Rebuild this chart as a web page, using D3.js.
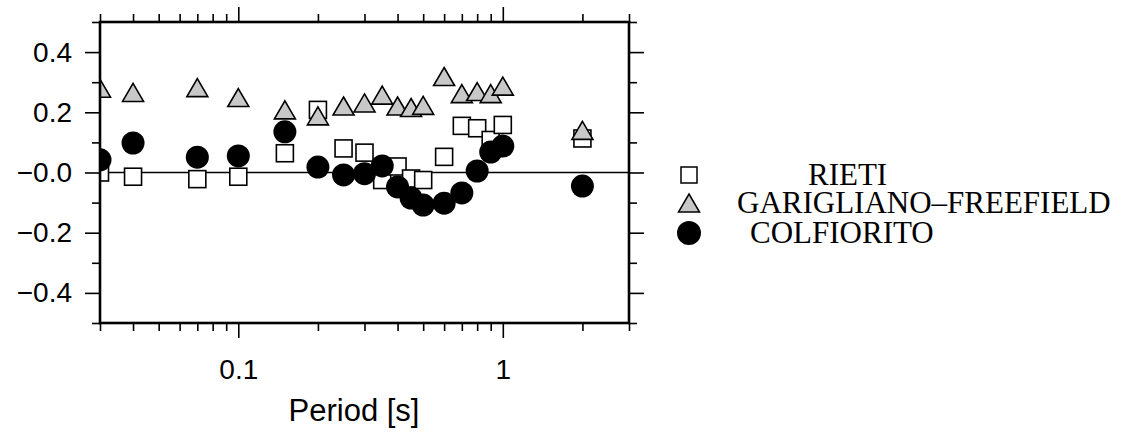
<!DOCTYPE html>
<html>
<head>
<meta charset="utf-8">
<script src="https://cdn.jsdelivr.net/npm/d3@7"></script>
<style>
  body { margin: 0; background: #fff; }
  svg { display: block; }
  .tick text { font-family: "Liberation Sans", Arial, sans-serif; }
</style>
</head>
<body>
<svg id="chart" width="1124" height="437"></svg>
<script>
// periods in seconds, shared by all stations
let periods = [0.03, 0.04, 0.07, 0.1, 0.15, 0.2, 0.25, 0.3, 0.35, 0.4, 0.45, 0.5, 0.6, 0.7, 0.8, 0.9, 1.0, 2.0];

let rieti = [0.0, -0.014, -0.022, -0.014, 0.064, 0.208, 0.080, 0.066, -0.025, 0.020, -0.020, -0.025, 0.052, 0.155, 0.147, 0.108, 0.158, 0.113];
let garigliano = [0.28, 0.266, 0.282, 0.249, 0.208, 0.188, 0.221, 0.231, 0.257, 0.221, 0.216, 0.223, 0.319, 0.262, 0.269, 0.262, 0.287, 0.14];
let colfiorito = [0.042, 0.098, 0.051, 0.055, 0.135, 0.018, -0.008, -0.004, 0.022, -0.048, -0.085, -0.108, -0.102, -0.068, 0.005, 0.068, 0.088, -0.045];

let seriesNames = ["RIETI", "GARIGLIANO\u2013FREEFIELD", "COLFIORITO"];

let yTickValues = [0.4, 0.2, 0, -0.2, -0.4];
let yTickLabels = ["0.4", "0.2", "\u22120.0", "\u22120.2", "\u22120.4"];
let xTickValues = [0.1, 1];
let xTickLabels = ["0.1", "1"];

let plot = { left: 100, right: 629, top: 22, bottom: 323 };

let svg = d3.select("#chart");

let x = d3.scaleLog().domain([0.03, 3]).range([plot.left, plot.right]);
let y = d3.scaleLinear().domain([-0.5, 0.5]).range([plot.bottom, plot.top]);

let minorX = x.ticks().filter(d => xTickValues.indexOf(d) < 0);
let minorY = d3.range(-5, 6).map(d => d / 10).filter(d => Math.abs(Math.round(d * 10)) % 2 === 1);

/**
 * Draws one axis twice: short minor ticks, then long labelled major ticks
 */
function drawAxis(maker, scale, transform, minor, major, labels, padding) {
    svg.append("g")
        .attr("transform", transform)
        .call(maker(scale).tickValues(minor).tickSize(8).tickFormat(""));
    let g = svg.append("g")
        .attr("transform", transform)
        .call(maker(scale).tickValues(major).tickSize(15).tickPadding(padding)
            .tickFormat((d, i) => labels ? labels[i] : ""));
    return g;
}

drawAxis(d3.axisBottom, x, `translate(0,${plot.bottom})`, minorX, xTickValues, xTickLabels, 21);
drawAxis(d3.axisTop, x, `translate(0,${plot.top})`, minorX, xTickValues, null, 0);
drawAxis(d3.axisLeft, y, `translate(${plot.left},0)`, minorY, yTickValues, yTickLabels, 13);
drawAxis(d3.axisRight, y, `translate(${plot.right},0)`, minorY, yTickValues, null, 0);

svg.selectAll(".domain").remove();
svg.selectAll(".tick line").attr("stroke", "#000").attr("stroke-width", 1.6);
svg.selectAll(".tick text").attr("font-size", 28).attr("fill", "#000");

// clip markers to the frame
svg.append("clipPath").attr("id", "clip")
    .append("rect")
    .attr("x", plot.left).attr("y", plot.top)
    .attr("width", plot.right - plot.left).attr("height", plot.bottom - plot.top);

let body = svg.append("g").attr("clip-path", "url(#clip)");

body.append("line")
    .attr("x1", plot.left).attr("x2", plot.right)
    .attr("y1", y(0)).attr("y2", y(0))
    .attr("stroke", "#000").attr("stroke-width", 1.4);

let sq = 17, triW = 21, triH = 18, rad = 11.5;
let triPath = `M0,${-triH / 2}L${triW / 2},${triH / 2}L${-triW / 2},${triH / 2}Z`;

body.selectAll("rect.rieti")
    .data(rieti)
    .enter()
    .append("rect")
    .attr("class", "rieti")
    .attr("x", (d, i) => x(periods[i]) - sq / 2)
    .attr("y", d => y(d) - sq / 2)
    .attr("width", sq).attr("height", sq)
    .attr("fill", "#fff").attr("stroke", "#000").attr("stroke-width", 1.6);

body.selectAll("path.gar")
    .data(garigliano)
    .enter()
    .append("path")
    .attr("class", "gar")
    .attr("d", triPath)
    .attr("transform", (d, i) => `translate(${x(periods[i])},${y(d)})`)
    .attr("fill", "#c8c8c8").attr("stroke", "#000").attr("stroke-width", 1.6);

body.selectAll("circle.colf")
    .data(colfiorito)
    .enter()
    .append("circle")
    .attr("class", "colf")
    .attr("cx", (d, i) => x(periods[i]))
    .attr("cy", d => y(d))
    .attr("r", rad)
    .attr("fill", "#000");

// frame
svg.append("rect")
    .attr("x", plot.left).attr("y", plot.top)
    .attr("width", plot.right - plot.left).attr("height", plot.bottom - plot.top)
    .attr("fill", "none").attr("stroke", "#000").attr("stroke-width", 2.6);

svg.append("text")
    .attr("x", 354).attr("y", 421)
    .attr("text-anchor", "middle")
    .attr("font-family", "Liberation Sans, Arial, sans-serif")
    .attr("font-size", 31)
    .text("Period [s]");

// legend
let legendX = 689;
let legendRows = [175, 203, 233];
let legendTextX = [808, 737, 750];
let legendBase = [185, 213, 243];
let legend = svg.append("g");

legend.append("rect")
    .attr("x", legendX - 8).attr("y", legendRows[0] - 8)
    .attr("width", 16).attr("height", 16)
    .attr("fill", "#fff").attr("stroke", "#000").attr("stroke-width", 1.5);
legend.append("path")
    .attr("d", triPath)
    .attr("transform", `translate(${legendX},${legendRows[1]})`)
    .attr("fill", "#c8c8c8").attr("stroke", "#000").attr("stroke-width", 1.5);
legend.append("circle")
    .attr("cx", legendX).attr("cy", legendRows[2]).attr("r", 12)
    .attr("fill", "#000");

legend.selectAll("text")
    .data(seriesNames)
    .enter()
    .append("text")
    .attr("x", (d, i) => legendTextX[i])
    .attr("y", (d, i) => legendBase[i])
    .attr("font-family", "Liberation Serif, Times New Roman, serif")
    .attr("font-size", 31)
    .text(d => d);
</script>
</body>
</html>
